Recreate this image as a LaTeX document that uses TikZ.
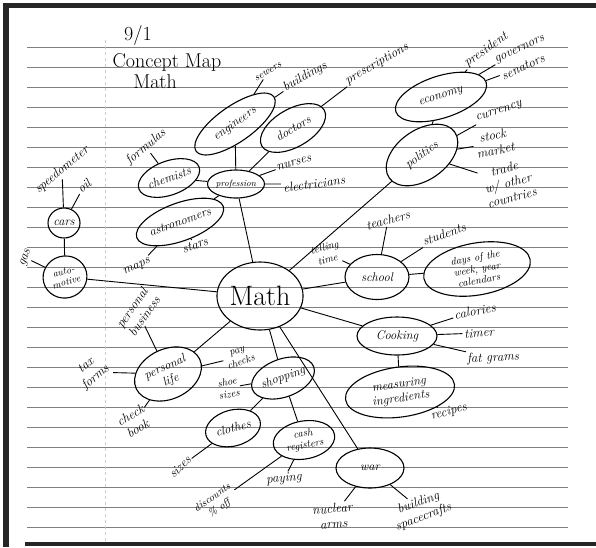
\documentclass[tikz,border=0pt]{standalone}
\usetikzlibrary{shapes.geometric}
\begin{document}
\begin{tikzpicture}[x=1pt, y=-1pt,
  concept/.style={ellipse, draw, line width=1.1pt, inner sep=0pt, align=center, font=\itshape\fontsize{12.5}{14}\selectfont},
  leaf/.style={inner sep=1.5pt, align=center, font=\itshape\fontsize{13}{15}\selectfont},
  note/.style={leaf, font=\itshape\fontsize{10.5}{12.5}\selectfont},
  title/.style={font=\fontsize{20}{20}\selectfont},
  edge/.style={line width=0.9pt},
  ruled/.style={line width=0.8pt, draw=black!50},
  margin/.style={line width=0.5pt, draw=black!20, dashed},
  frame/.style={fill=black!85}
]
\path[use as bounding box, fill=white] (0,0) rectangle (596,547);
% paper
\foreach \y in {47,67,...,527}
  \draw[ruled] (27,\y) -- (568,\y);
\draw[margin] (105,40) -- (105,543);
\fill[frame] (3,3) rectangle (9,547);
\fill[frame] (3,3) rectangle (596,8);
\fill[frame] (25,542) rectangle (596,546);
% title
\node[title] (day) at (138,35) {9/1};
\node[title] (ttl) at (167,62) {Concept Map};
\node[title] (sub) at (155,82) {Math};
% concepts
\node[concept, minimum width=86, minimum height=68, font=\fontsize{28}{28}\selectfont] (mat) at (260,296) {Math};
\node[concept, minimum width=95, minimum height=36, rotate=35] (eng) at (235,124) {engineers};
\node[concept, minimum width=72, minimum height=38, rotate=30] (doc) at (293,128) {doctors};
\node[concept, minimum width=46, minimum height=28, font=\itshape\fontsize{9}{9}\selectfont] (prof) at (236,184) {profession};
\node[concept, minimum width=58, minimum height=34, rotate=20] (chem) at (169,178) {chemists};
\node[concept, minimum width=84, minimum height=38, rotate=20] (astr) at (180,222) {astronomers};
\node[concept, minimum width=32, minimum height=30] (cars) at (64,223) {cars};
\node[concept, minimum width=44, minimum height=42, rotate=15, font=\itshape\fontsize{10}{11}\selectfont] (auto) at (65,277) {auto-\\motive};
\node[concept, minimum width=95, minimum height=42, rotate=18] (econ) at (441,97) {economy};
\node[concept, minimum width=80, minimum height=50, rotate=35] (pol) at (422,155) {politics};
\node[concept, minimum width=64, minimum height=45] (sch) at (377,277) {school};
\node[concept, minimum width=108, minimum height=52, rotate=10, font=\itshape\fontsize{10.5}{11.5}\selectfont] (days) at (477,269) {days of the\\week, year\\calendars};
\node[concept, minimum width=80, minimum height=38] (cook) at (397,336) {Cooking};
\node[concept, minimum width=110, minimum height=50, rotate=8] (meas) at (400,392) {measuring\\ingredients};
\node[concept, minimum width=54, minimum height=38, rotate=20] (shop) at (283,378) {shopping};
\node[concept, minimum width=70, minimum height=50, rotate=25] (pers) at (168,374) {personal\\life};
\node[concept, minimum width=56, minimum height=36, rotate=15] (clo) at (233,428) {clothes};
\node[concept, minimum width=62, minimum height=38, rotate=10, font=\itshape\fontsize{10.5}{11.5}\selectfont] (cash) at (304,440) {cash\\registers};
\node[concept, minimum width=68, minimum height=40] (war) at (370,468) {war};
% details
\node[note, rotate=30] (sew) at (268,72) {sewers};
\node[leaf, rotate=30] (bld) at (305,77) {buildings};
\node[leaf, rotate=30] (pres) at (377,64) {prescriptions};
\node[leaf, rotate=15] (nur) at (294,163) {nurses};
\node[leaf, rotate=8] (ele) at (314,184) {electricians};
\node[leaf, rotate=40] (form) at (146,147) {formulas};
\node[leaf, rotate=25] (maps) at (137,267) {maps};
\node[leaf, rotate=20] (star) at (195,245) {stars};
\node[leaf, rotate=40] (spd) at (62,170) {speedometer};
\node[leaf, rotate=40] (oil) at (84,186) {oil};
\node[leaf, rotate=70] (gas) at (26,258) {gas};
\node[leaf, rotate=35] (prsd) at (486,50) {president};
\node[leaf, rotate=25] (gov) at (520,50) {governors};
\node[leaf, rotate=25] (sen) at (523,67) {senators};
\node[leaf, rotate=18] (cur) at (499,112) {currency};
\node[leaf, rotate=12] (stk) at (494,143) {stock\\market};
\node[leaf, rotate=15] (trd) at (508,183) {trade\\w/ other\\countries};
\node[leaf, rotate=15] (tch) at (388,220) {teachers};
\node[leaf, rotate=20] (stu) at (444,234) {students};
\node[note, rotate=15] (tel) at (326,253) {telling\\time};
\node[leaf, rotate=10] (cal) at (475,311) {calories};
\node[leaf, rotate=5] (tim) at (479,333) {timer};
\node[leaf, rotate=3] (fat) at (493,358) {fat grams};
\node[leaf, rotate=15] (rec) at (449,412) {recipes};
\node[leaf, rotate=55] (pbus) at (138,312) {personal\\business};
\node[note, rotate=20] (pay) at (239,357) {pay\\checks};
\node[note, rotate=10] (shoe) at (228,388) {shoe\\sizes};
\node[leaf, rotate=40] (tax) at (91,372) {tax\\forms};
\node[leaf, rotate=30] (chk) at (134,422) {check\\book};
\node[leaf, rotate=45] (siz) at (180,467) {sizes};
\node[leaf, rotate=5] (payg) at (284,479) {paying};
\node[note, rotate=35] (disc) at (216,503) {discounts\\\% off};
\node[leaf, rotate=5] (nuc) at (333,516) {nuclear\\arms};
\node[leaf, rotate=20] (bsp) at (421,510) {building\\spacecrafts};
% links
\draw[edge] (prof) -- (eng);
\draw[edge] (prof) -- (doc);
\draw[edge] (prof) -- (nur);
\draw[edge] (prof) -- (ele);
\draw[edge] (prof) -- (chem);
\draw[edge] (prof) -- (astr);
\draw[edge] (prof) -- (mat);
\draw[edge] (eng) -- (sew);
\draw[edge] (eng) -- (bld);
\draw[edge] (doc) -- (pres);
\draw[edge] (chem) -- (form);
\draw[edge] (astr) -- (maps);
\draw[edge] (astr) -- (star);
\draw[edge] (cars) -- (spd);
\draw[edge] (cars) -- (oil);
\draw[edge] (cars) -- (auto);
\draw[edge] (auto) -- (gas);
\draw[edge] (auto) -- (mat);
\draw[edge] (econ) -- (prsd);
\draw[edge] (econ) -- (gov);
\draw[edge] (econ) -- (sen);
\draw[edge] (econ) -- (pol);
\draw[edge] (pol) -- (cur);
\draw[edge] (pol) -- (stk);
\draw[edge] (pol) -- (trd);
\draw[edge] (pol) -- (mat);
\draw[edge] (sch) -- (tch);
\draw[edge] (sch) -- (stu);
\draw[edge] (sch) -- (tel);
\draw[edge] (sch) -- (days);
\draw[edge] (sch) -- (mat);
\draw[edge] (mat) -- (cook);
\draw[edge] (cook) -- (cal);
\draw[edge] (cook) -- (tim);
\draw[edge] (cook) -- (fat);
\draw[edge] (cook) -- (meas);
\draw[edge] (meas) -- (rec);
\draw[edge] (mat) -- (pers);
\draw[edge] (pers) -- (pbus);
\draw[edge] (pers) -- (pay);
\draw[edge] (pers) -- (tax);
\draw[edge] (pers) -- (chk);
\draw[edge] (mat) -- (shop);
\draw[edge] (shop) -- (shoe);
\draw[edge] (shop) -- (clo);
\draw[edge] (shop) -- (cash);
\draw[edge] (clo) -- (siz);
\draw[edge] (cash) -- (payg);
\draw[edge] (cash) -- (disc);
\draw[edge] (mat) -- (war);
\draw[edge] (war) -- (nuc);
\draw[edge] (war) -- (bsp);
\end{tikzpicture}
\end{document}
